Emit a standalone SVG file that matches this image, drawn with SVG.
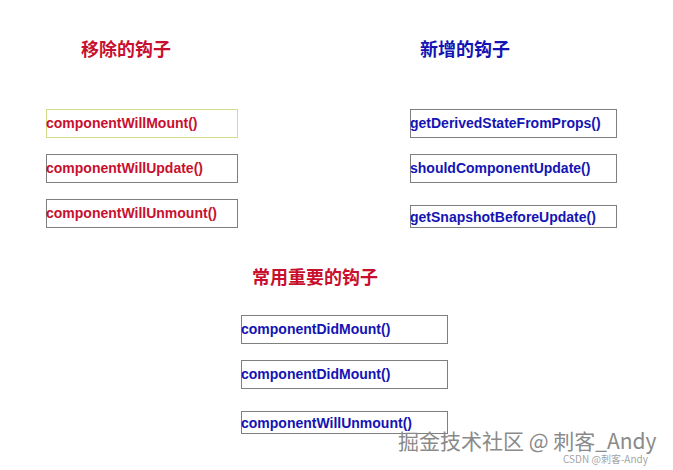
<svg xmlns="http://www.w3.org/2000/svg" width="673" height="470" viewBox="0 0 673 470">
<style>
.bg{fill:#ffffff}
.box{fill:#ffffff;stroke:#7f7f7f;stroke-width:1}
.boxy{fill:#ffffff;stroke:#d4dc8c;stroke-width:1}
.title{font-family:"Noto Sans CJK SC","Liberation Sans",sans-serif;font-weight:bold;font-size:18px}
.lbl{font-family:"Liberation Sans",Arial,sans-serif;font-weight:bold;font-size:14px}
.red{fill:#c8102e}
.blue{fill:#1414b4}
.wm{font-family:"Noto Sans CJK SC","Liberation Sans",sans-serif;fill:#8a8a8a}
</style>
<rect class="bg" x="0" y="0" width="673" height="470"/>
<g id="title-removed"><text class="title red" x="81" y="56">移除的钩子</text></g>
<g id="title-new"><text class="title blue" x="420" y="56">新增的钩子</text></g>
<g id="title-common"><text class="title red" x="252" y="284">常用重要的钩子</text></g>

<g id="node-cwm"><rect class="boxy" x="46.5" y="109.5" width="191" height="28"/><text class="lbl red" x="46" y="128">componentWillMount()</text></g>
<g id="node-cwu"><rect class="box" x="46.5" y="154.5" width="191" height="28"/><text class="lbl red" x="46" y="173">componentWillUpdate()</text></g>
<g id="node-cwun"><rect class="box" x="46.5" y="199.5" width="191" height="28"/><text class="lbl red" x="46" y="218">componentWillUnmount()</text></g>

<g id="node-gdsfp"><rect class="box" x="410.5" y="109.5" width="206" height="28"/><text class="lbl blue" x="410" y="128">getDerivedStateFromProps()</text></g>
<g id="node-scu"><rect class="box" x="410.5" y="154.5" width="206" height="28"/><text class="lbl blue" x="410" y="173">shouldComponentUpdate()</text></g>
<g id="node-gsbu"><rect class="box" x="410.5" y="205.5" width="206" height="22"/><text class="lbl blue" x="410" y="222">getSnapshotBeforeUpdate()</text></g>

<g id="node-cdm1"><rect class="box" x="241.5" y="315.5" width="206" height="28"/><text class="lbl blue" x="241" y="334">componentDidMount()</text></g>
<g id="node-cdm2"><rect class="box" x="241.5" y="360.5" width="206" height="28"/><text class="lbl blue" x="241" y="379">componentDidMount()</text></g>
<g id="node-cwun2"><rect class="box" x="241.5" y="411.5" width="206" height="22"/><text class="lbl blue" x="241" y="428">componentWillUnmount()</text></g>

<g id="connectors"></g>

<text class="wm" x="398" y="449" font-size="21">掘金技术社区 @ 刺客_Andy</text>
<text class="wm" x="563" y="463" font-size="10" fill-opacity="0.8">CSDN @刺客-Andy</text>
</svg>
